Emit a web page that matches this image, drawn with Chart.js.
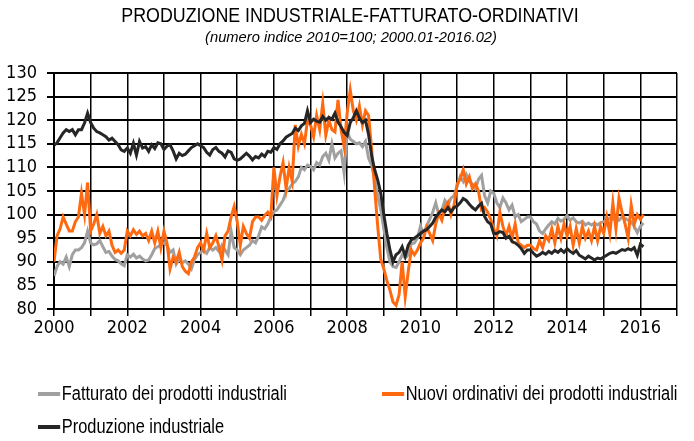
<!DOCTYPE html>
<html>
<head>
<meta charset="utf-8">
<script src="https://cdn.jsdelivr.net/npm/chart.js"></script>
<style>
  body { margin: 0; background: #fff; }
  #wrap { position: relative; width: 694px; height: 441px; }
  .txt { position: absolute; font-family: 'Liberation Sans', Arial, sans-serif; color: #000; white-space: nowrap; }
  .titolo { left: 3px; top: 4px; width: 694px; text-align: center; font-size: 20.5px; line-height: 22px;
            transform: scaleX(0.87); transform-origin: 347px 0; }
  .sotto { left: 4px; top: 28px; width: 694px; text-align: center; font-size: 15.5px; line-height: 18px; font-style: italic;
           transform: scaleX(0.95); transform-origin: 347px 0; }
  .leg { font-size: 20px; line-height: 20px; transform: scaleX(0.82); transform-origin: 0 0; }
  .leg i { display: inline-block; width: 27px; height: 4px; vertical-align: middle; margin-right: 2px; position: relative; top: -1px; }
</style>
</head>
<body>
<div id="wrap">
  <canvas id="grafico" width="694" height="441"></canvas>
  <div class="txt titolo">PRODUZIONE INDUSTRIALE-FATTURATO-ORDINATIVI</div>
  <div class="txt sotto">(numero indice 2010=100; 2000.01-2016.02)</div>
  <div class="txt leg" style="left:38px; top:383px;"><i style="background:#a0a0a0"></i>Fatturato dei prodotti industriali</div>
  <div class="txt leg" style="left:382px; top:383px;"><i style="background:#ff6a10"></i>Nuovi ordinativi dei prodotti industriali</div>
  <div class="txt leg" style="left:38px; top:416px;"><i style="background:#262626"></i>Produzione industriale</div>
</div>

<script>
// dati mensili 2000.01 - 2016.02 (numero indice 2010=100)
const anni = [2000, 2001, 2002, 2003, 2004, 2005, 2006, 2007, 2008, 2009, 2010, 2011, 2012, 2013, 2014, 2015, 2016];

const produzione = [
  114.7, 115.2, 116.3, 117.3, 118, 117.6, 118, 116.9, 118, 118, 119.4, 121.5,
  119.5, 118.3, 117.6, 117.3, 116.9, 116.5, 115.8, 116.2, 115.5, 114.8, 113.7, 113.4,
  114.1, 113, 115.1, 112.6, 115.5, 114.1, 114.4, 113.4, 114.8, 114, 115.2, 115,
  113.8, 114.5, 114.8, 113.5, 111.8, 113, 112.5, 112.8, 113.5, 114.2, 114.6, 115,
  114.6, 114.2, 113.2, 112.6, 113.8, 114.2, 113.4, 113, 112.2, 113.5, 113.2, 111.8,
  111.5, 111.8, 112.4, 113, 112.4, 111.6, 112.3, 112, 112.8, 112.3, 113.4, 113.2,
  114.2, 113.8, 115, 115.6, 116.4, 116.8, 117.2, 118.3, 117.8, 118.8, 119.3, 122,
  119.5, 120.2, 119.8, 119.6, 120.8, 120, 120.6, 120.2, 121.5, 119.6, 118.6, 117.4,
  116.8, 119.5, 120.5, 122, 120.5, 119.5, 120, 117, 112.5, 109.5, 107.3, 104.5,
  100, 96, 92.5, 90, 91.5, 92, 93.2, 91.2, 93.5, 94.6, 95, 95.5,
  96, 96.5, 96.8, 97.5, 98.2, 99.5, 100.3, 101, 100.6, 101.5, 100.6, 101.5,
  101.8, 102.5, 103.4, 103, 102.2, 101.5, 101, 101.8, 102.4, 99.6, 98.5, 98,
  96, 96, 96.4, 96.2, 95, 95.4, 94.3, 94, 93.5, 92.8, 91.8, 92.5,
  92.5, 91.8, 91.2, 91.5, 92, 91.6, 92.2, 91.8, 92.4, 92, 92.6, 92,
  92.8, 92.2, 91.8, 92.4, 91.4, 91, 90.6, 91.2, 90.8, 90.4, 90.8, 90.6,
  91, 91.4, 91.8, 92, 91.8, 92.2, 92.6, 92.4, 92.8, 92.5, 93, 91.4,
  93.7, 93.2
];

const fatturato = [
  87, 89, 90, 89.5, 91, 89, 91.5, 92.5, 92.5, 93, 94, 96.5,
  94, 93.6, 93.8, 94.5, 93.2, 92, 92.2, 91.2, 90.5, 90.2, 89.6, 89.2,
  91.5, 91, 91.6, 90.8, 91.2, 90.6, 90.2, 90.4, 91.5, 92.8, 93.2, 93.6,
  94, 93.5, 92, 92.5, 89.5, 90.5, 89.8, 90.2, 89.5, 88.5, 90.5, 91.5,
  92, 92.5, 91.8, 93, 92.5, 93, 92.2, 93.5, 92.5, 91.5, 96.5, 93,
  92.5, 91.5, 92.5, 93, 93.5, 94.5, 94, 95.5, 97.4, 97, 98, 99.5,
  100.6, 101, 102, 103, 104.9, 105.5, 106.5, 107, 108, 110, 109.5, 110.5,
  110.2, 109.5, 111, 110.5, 112.3, 113, 111.5, 115, 112, 113, 113.5, 108.8,
  117.6, 116, 115.5, 115, 115.2, 114.4, 115.5, 112, 110.5, 107.5, 104, 101,
  97, 93, 90, 89, 88.8, 90, 91.5, 90.8, 91.5, 93.8, 94, 95,
  97.5, 96, 97.5, 99, 100.5, 102.5, 100, 101, 103, 102, 103.5, 104,
  106, 108, 107, 108.5, 107, 106.5, 105.5, 107.5, 108.3, 104, 102.5, 105,
  104.5, 102.5, 101.5, 103.5, 102.5, 101, 102, 99.5, 100, 98.5, 99, 99.5,
  99.5, 98.5, 98, 96.5, 96, 97, 97.8, 98.5, 98, 99.2, 98.6, 99,
  99.8, 98.8, 99.3, 98.5, 98.2, 98.6, 97.8, 98.2, 97.8, 98.2, 97.8, 98.3,
  98.5, 98.8, 99.3, 99, 99.5, 98.8, 99.5, 99.2, 98.8, 98.5, 97.5, 96.2,
  97.5, 98.2
];

const ordinativi = [
  90, 95.5, 97, 99.5, 98, 96.5, 96.5, 98.5, 99.5, 104.5, 100, 106.8,
  96.5, 98, 100, 96, 97.5, 95.5, 96.5, 93.5, 92, 92.5, 91.8, 92.5,
  96.5, 95.5, 96.8, 95.8, 96.5, 95.5, 96, 94.5, 96.5, 94, 96.5, 93,
  96.5, 94, 88.5, 91, 90, 92, 89, 88, 87.5, 90, 91, 93,
  94, 92.5, 96, 93, 94, 95.5, 93.2, 90.4, 95.5, 96.5, 99.5, 101.7,
  98.5, 93.5, 97.5, 96, 95, 98.5, 99.5, 99.5, 98.8, 99.8, 100.5, 99.5,
  110, 104, 108, 111, 105.5, 110, 107, 119, 114.5, 117, 115, 120,
  119, 116.5, 121, 118, 123.6, 116.8, 120, 118, 117.5, 124.3, 118, 114.4,
  121.5, 126.4, 122, 120, 123, 119, 122, 121, 114, 105.5, 97.5, 90.5,
  88.5, 86, 84, 81.5, 80.8, 83, 90, 82.6, 88, 92.5, 91.5, 92.5,
  94, 95, 97.4, 96, 94.5, 98, 100.2, 98.8, 101.5, 102.6, 100, 102,
  106.5, 107.5, 109.5, 106.5, 108, 105.5, 106.5, 105, 101, 101.5, 100.5, 99,
  97, 95.5, 100.5, 97.5, 95.5, 97.5, 95, 98, 94, 93.5, 93, 93.5,
  93.5, 92.8, 92.5, 94.5, 93, 95.5, 94.5, 97, 94, 97.5, 95, 98,
  95.5, 97.5, 93.5, 97, 94, 97.5, 95, 96.5, 94.5, 97.5, 94.5, 97.5,
  96, 99.5, 96, 102.5, 97, 103.5, 100.5, 98, 95, 102, 98, 100,
  99, 100
];

const asseY = [80, 85, 90, 95, 100, 105, 110, 115, 120, 125, 130];

// un punto per mese: x = anno + mese/12
function punti(serie) {
  return serie.map((v, i) => ({ x: anni[0] + i / 12, y: v }));
}

Chart.defaults.font.family = "'DejaVu Sans Condensed', 'Liberation Sans', sans-serif";
Chart.defaults.color = '#000';

var ctx = document.getElementById('grafico').getContext('2d');
var chart = new Chart(ctx, {
  type: 'line',
  data: {
    datasets: [
      { label: 'Produzione industriale', data: punti(produzione), borderColor: '#262626', borderWidth: 3, order: 0 },
      { label: 'Nuovi ordinativi dei prodotti industriali', data: punti(ordinativi), borderColor: '#ff6a10', borderWidth: 3, order: 1 },
      { label: 'Fatturato dei prodotti industriali', data: punti(fatturato), borderColor: '#a0a0a0', borderWidth: 3, order: 2 }
    ]
  },
  options: {
    responsive: false,
    animation: false,
    devicePixelRatio: 1,
    elements: { point: { radius: 0 }, line: { tension: 0 } },
    layout: { padding: { left: 0, right: 17, top: 73, bottom: 0 } },
    plugins: {
      legend: { display: false },
      tooltip: { enabled: false }
    },
    scales: {
      x: {
        type: 'linear',
        min: 2000,
        max: 2017,
        afterFit: s => { s.height = 132; },
        ticks: {
          stepSize: 1,
          autoSkip: false,
          maxRotation: 0,
          padding: 2,
          font: { size: 18 },
          callback: v => (v % 2 === 0 ? String(v) : '')
        },
        grid: { color: '#000', lineWidth: 1.5, tickLength: 7 },
        border: { color: '#000', width: 2 }
      },
      y: {
        min: asseY[0],
        max: asseY[asseY.length - 1],
        afterFit: s => { s.width = 54; },
        afterBuildTicks: s => { s.ticks = asseY.map(v => ({ value: v })); },
        ticks: { stepSize: 5, autoSkip: false, padding: 10, font: { size: 18 } },
        grid: { color: '#000', lineWidth: 2, tickLength: 7 },
        border: { color: '#000', width: 2 }
      }
    }
  }
});
</script>
</body>
</html>
